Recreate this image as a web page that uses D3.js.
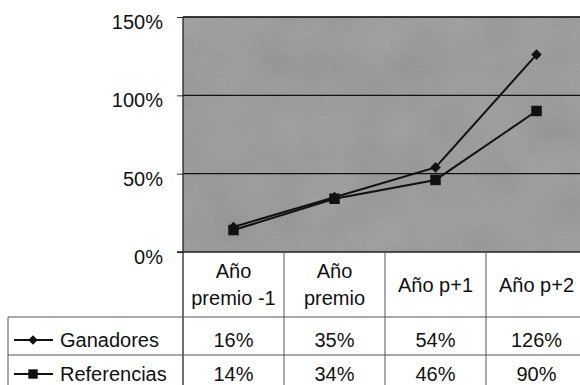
<!DOCTYPE html>
<html>
<head>
<meta charset="utf-8">
<script src="https://cdn.jsdelivr.net/npm/d3@7"></script>
<style>
  html, body { margin: 0; padding: 0; background: #fff; }
  svg { display: block; font-family: "Liberation Sans", Arial, sans-serif; }
</style>
</head>
<body>
<svg id="chart" width="580" height="385"></svg>
<script>
// Categories (two-line header labels) and series values, in percent
const categories = [["Año", "premio -1"], ["Año", "premio"], ["Año p+1"], ["Año p+2"]];
const ganadores = [16, 35, 54, 126];
const referencias = [14, 34, 46, 90];
const seriesNames = ["Ganadores", "Referencias"];
const yTicks = [0, 50, 100, 150];

const svg = d3.select("#chart");

const plotLeft = 183, plotTop = 17, plotBottom = 252, colWidth = 101;
const plotRight = plotLeft + colWidth * categories.length;
const rowLines = [317, 355, 393];
const legendLeft = 8;
const fontSize = 20;

const x = d3.scaleBand()
  .domain(d3.range(categories.length))
  .range([plotLeft, plotRight]);
const y = d3.scaleLinear().domain([0, 150]).range([plotBottom, plotTop]);

// Grainy grey plot background
const defs = svg.append("defs");
const f = defs.append("filter").attr("id", "grain")
  .attr("x", 0).attr("y", 0).attr("width", 1).attr("height", 1);
f.append("feTurbulence").attr("type", "fractalNoise")
  .attr("baseFrequency", 0.9).attr("numOctaves", 2).attr("seed", 3).attr("result", "n");
f.append("feColorMatrix").attr("in", "n").attr("type", "matrix")
  .attr("values", "0 0 0 0 0  0 0 0 0 0  0 0 0 0 0  0 0 0 0.2 0").attr("result", "dots");
f.append("feTurbulence").attr("type", "fractalNoise")
  .attr("baseFrequency", 0.02).attr("numOctaves", 2).attr("seed", 7).attr("result", "m");
f.append("feColorMatrix").attr("in", "m").attr("type", "matrix")
  .attr("values", "0 0 0 0 0  0 0 0 0 0  0 0 0 0 0  0 0 0 0.2 0").attr("result", "mottle");
const fm = f.append("feMerge");
fm.append("feMergeNode").attr("in", "SourceGraphic");
fm.append("feMergeNode").attr("in", "mottle");
fm.append("feMergeNode").attr("in", "dots");

svg.append("rect")
  .attr("x", plotLeft).attr("y", plotTop)
  .attr("width", plotRight - plotLeft).attr("height", plotBottom - plotTop)
  .attr("fill", "#ababab")
  .attr("filter", "url(#grain)");

// Gridlines
svg.append("g").selectAll("line")
  .data(yTicks.filter(d => d > 0))
  .join("line")
  .attr("x1", plotLeft).attr("x2", plotRight)
  .attr("y1", d => y(d)).attr("y2", d => y(d))
  .attr("stroke", "#111").attr("stroke-width", 1.2);

// Y axis
const yAxis = d3.axisLeft(y)
  .tickValues(yTicks)
  .tickFormat(d => d + "%")
  .tickSize(6)
  .tickPadding(14);
const gy = svg.append("g").attr("transform", `translate(${plotLeft},0)`).call(yAxis);
gy.select(".domain").remove();
gy.selectAll(".tick line").attr("stroke", "#333");
gy.selectAll(".tick text")
  .attr("font-size", fontSize).attr("fill", "#111")
  .attr("font-family", "'Liberation Sans', Arial, sans-serif")
  .attr("dy", "0.58em");

// Plot border (left + bottom + top)
svg.append("line").attr("x1", plotLeft).attr("x2", plotLeft)
  .attr("y1", plotTop).attr("y2", 385).attr("stroke", "#222").attr("stroke-width", 1.3);
svg.append("line").attr("x1", plotLeft).attr("x2", plotRight)
  .attr("y1", plotTop).attr("y2", plotTop).attr("stroke", "#222").attr("stroke-width", 1.3);
svg.append("line").attr("x1", plotLeft - 6).attr("x2", plotRight)
  .attr("y1", plotBottom).attr("y2", plotBottom).attr("stroke", "#222").attr("stroke-width", 1.5);

// Series lines and markers (diamond = rotated square)
const line = d3.line().x((d, i) => x(i) + x.bandwidth() / 2).y(d => y(d));
const series = [
  { name: seriesNames[0], values: ganadores, symbol: d3.symbolSquare, size: 56, rotate: 45 },
  { name: seriesNames[1], values: referencias, symbol: d3.symbolSquare, size: 110, rotate: 0 }
];
series.forEach(s => {
  svg.append("path").datum(s.values)
    .attr("d", line).attr("fill", "none")
    .attr("stroke", "#111").attr("stroke-width", 2);
  svg.append("g").selectAll("path")
    .data(s.values).join("path")
    .attr("transform", (d, i) => `translate(${x(i) + x.bandwidth() / 2},${y(d)}) rotate(${s.rotate})`)
    .attr("d", d3.symbol(s.symbol, s.size))
    .attr("fill", "#111");
});

// Data table grid
const tableStroke = "#555";
svg.append("g").selectAll("line")
  .data(d3.range(1, categories.length))
  .join("line")
  .attr("x1", i => x(i)).attr("x2", i => x(i))
  .attr("y1", plotBottom).attr("y2", 385)
  .attr("stroke", tableStroke).attr("stroke-width", 1);
svg.append("g").selectAll("line")
  .data(rowLines.slice(0, 2))
  .join("line")
  .attr("x1", legendLeft).attr("x2", plotRight)
  .attr("y1", d => d).attr("y2", d => d)
  .attr("stroke", tableStroke).attr("stroke-width", 1);
svg.append("line")
  .attr("x1", legendLeft).attr("x2", legendLeft)
  .attr("y1", rowLines[0]).attr("y2", 385)
  .attr("stroke", tableStroke).attr("stroke-width", 1);

// Header labels
const header = svg.append("g").selectAll("text")
  .data(categories).join("text")
  .attr("text-anchor", "middle")
  .attr("font-size", fontSize).attr("fill", "#111")
  .attr("x", (d, i) => x(i) + x.bandwidth() / 2);
header.each(function (d) {
  const t = d3.select(this);
  const mid = (plotBottom + rowLines[0]) / 2;
  const lh = 27;
  d.forEach((s, k) => {
    t.append("tspan")
      .attr("x", t.attr("x"))
      .attr("y", mid + (k - (d.length - 1) / 2) * lh)
      .attr("dy", "0.36em")
      .text(s);
  });
});

// Table values and legend rows
series.forEach((s, r) => {
  const mid = (rowLines[r] + rowLines[r + 1]) / 2;
  const textY = r === 0 ? mid + 4 : mid;
  svg.append("g").selectAll("text")
    .data(s.values).join("text")
    .attr("x", (d, i) => x(i) + x.bandwidth() / 2)
    .attr("y", textY).attr("dy", "0.36em")
    .attr("text-anchor", "middle")
    .attr("font-size", fontSize).attr("fill", "#111")
    .text(d => d + "%");
  // legend key
  svg.append("line")
    .attr("x1", 14).attr("x2", 53).attr("y1", textY).attr("y2", textY)
    .attr("stroke", "#111").attr("stroke-width", 2);
  svg.append("path")
    .attr("transform", `translate(33,${textY}) rotate(${s.rotate})`)
    .attr("d", d3.symbol(s.symbol, s.size * 0.8))
    .attr("fill", "#111");
  svg.append("text")
    .attr("x", 60).attr("y", textY).attr("dy", "0.36em")
    .attr("font-size", fontSize).attr("fill", "#111")
    .text(s.name);
});
</script>
</body>
</html>
